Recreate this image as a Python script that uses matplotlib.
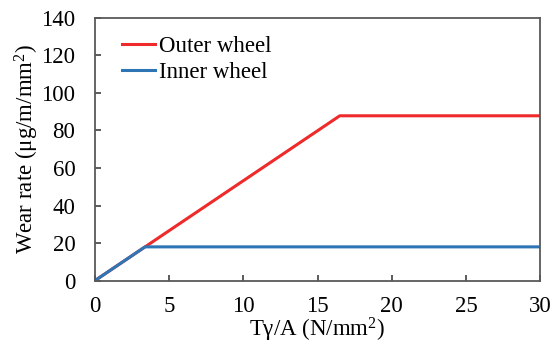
import matplotlib
matplotlib.use('Agg')
import matplotlib.pyplot as plt

plt.rc('font', family='Liberation Serif', size=16.5)
plt.rc('mathtext', fontset='custom', rm='Liberation Serif', it='Liberation Serif:italic')

# piecewise wear-rate curves (x: Tγ/A, y: wear rate)
outer_x = [0, 16.5, 30]
outer_y = [0, 87.8, 87.8]
inner_x = [0, 3.38, 30]
inner_y = [0, 18.0, 18.0]

fig = plt.figure(figsize=(5.58, 3.45), dpi=100)
ax = fig.add_axes([0.170, 0.1865, 0.798, 0.762])

ax.plot(outer_x, outer_y, color='#EE2A2A', lw=2.2, label='Outer wheel')
ax.plot(inner_x, inner_y, color='#2E75B6', lw=2.2, label='Inner wheel')

ax.set_xlim(0, 30)
ax.set_ylim(0, 140)
ax.set_xticks(range(0, 31, 5))
ax.set_yticks(range(0, 141, 20))
ax.tick_params(direction='in', length=4.5, width=1.2, color='#404040')
ax.tick_params(axis='x', pad=11)
ax.tick_params(axis='y', pad=14)
for s in ax.spines.values():
    s.set_color('#595959')
    s.set_linewidth(1.3)

ax.set_xlabel('Tγ/A (N/mm$^2$)', labelpad=-1)
ax.set_ylabel('Wear rate (μg/m/mm$^2$)', labelpad=0)

ax.legend(loc='upper left', frameon=False, handlelength=1.45, handletextpad=0.17,
          labelspacing=0.2, borderaxespad=0.4, bbox_to_anchor=(0.02, 1.0))

fig.savefig('out.png', dpi=100)
